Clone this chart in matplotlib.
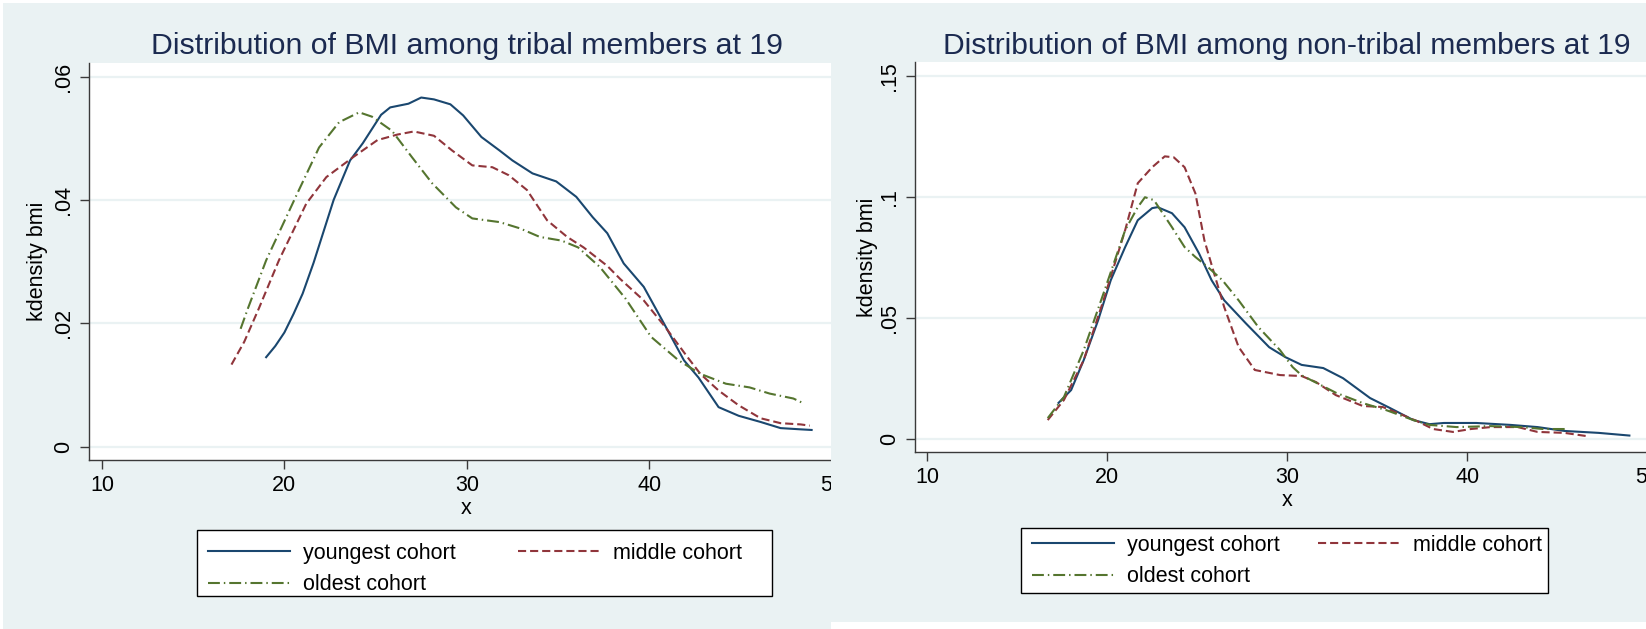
import matplotlib
matplotlib.use('Agg')
import matplotlib.pyplot as plt
from matplotlib.patches import Rectangle

# BMI kernel densities at age 19
cohorts = ['youngest cohort', 'middle cohort', 'oldest cohort']

# tribal members
tr_young_x = [19.0, 19.5, 20.0, 20.5, 21.0, 21.6, 22.7, 23.6, 24.3, 25.3, 25.8, 26.8, 27.5, 28.2,
              29.1, 29.8, 30.8, 31.8, 32.5, 33.6, 34.9, 36.0, 36.9, 37.7, 38.6, 39.7, 40.8, 41.9,
              42.7, 43.8, 44.9, 46.1, 47.2, 48.3, 48.9]
tr_young_y = [0.0145, 0.0163, 0.0185, 0.0215, 0.0248, 0.0298, 0.0400, 0.0464, 0.0492, 0.0538,
              0.0550, 0.0556, 0.0566, 0.0563, 0.0555, 0.0537, 0.0502, 0.0480, 0.0464, 0.0443,
              0.0430, 0.0405, 0.0372, 0.0346, 0.0297, 0.0259, 0.0200, 0.0140, 0.0112, 0.0064,
              0.0050, 0.0040, 0.0030, 0.0028, 0.0027]
tr_mid_x = [17.1, 17.8, 18.6, 19.7, 21.2, 22.3, 23.8, 25.1, 26.2, 27.1, 28.2, 29.2, 30.3, 31.4,
            32.3, 33.3, 34.4, 35.5, 36.4, 37.7, 38.4, 39.7, 40.9, 42.1, 42.8, 43.8, 44.9, 46.1,
            47.2, 48.3, 48.8]
tr_mid_y = [0.0133, 0.0170, 0.0224, 0.0302, 0.0394, 0.0437, 0.0470, 0.0497, 0.0506, 0.0511,
            0.0504, 0.0480, 0.0456, 0.0453, 0.0440, 0.0416, 0.0367, 0.0340, 0.0323, 0.0293,
            0.0272, 0.0237, 0.0193, 0.0145, 0.0118, 0.0091, 0.0067, 0.0046, 0.0038, 0.0036,
            0.0034]
tr_old_x = [17.6, 18.0, 19.0, 20.7, 21.9, 23.0, 24.1, 24.8, 25.9, 27.0, 28.1, 29.4, 30.3, 31.8,
            32.9, 34.0, 35.2, 36.1, 37.3, 38.7, 40.1, 41.6, 42.8, 44.2, 45.5, 46.6, 47.9, 48.4]
tr_old_y = [0.0191, 0.0224, 0.0302, 0.0410, 0.0485, 0.0526, 0.0542, 0.0535, 0.0512, 0.0469,
            0.0427, 0.0388, 0.0370, 0.0364, 0.0354, 0.0340, 0.0334, 0.0323, 0.0291, 0.0240,
            0.0178, 0.0140, 0.0118, 0.0102, 0.0096, 0.0086, 0.0078, 0.0071]

# non-tribal members
nt_young_x = [17.3, 18.0, 18.7, 19.5, 20.2, 21.0, 21.7, 22.5, 22.8, 23.6, 24.3, 25.1, 25.8, 26.5,
              27.7, 29.0, 29.9, 30.8, 32.0, 33.1, 34.6, 35.7, 37.0, 37.9, 38.7, 40.5, 42.4, 43.9,
              45.4, 47.3, 49.0]
nt_young_y = [0.0148, 0.0201, 0.0325, 0.0490, 0.0655, 0.0792, 0.0903, 0.0953, 0.0957, 0.0932,
              0.0874, 0.0766, 0.0655, 0.0572, 0.0477, 0.0378, 0.0337, 0.0305, 0.0292, 0.0250,
              0.0168, 0.0127, 0.0077, 0.0060, 0.0065, 0.0065, 0.0057, 0.0048, 0.0032, 0.0024,
              0.0013]
nt_mid_x = [16.7, 17.6, 18.7, 19.8, 21.0, 21.7, 22.5, 23.2, 23.7, 24.3, 24.9, 25.4, 26.0, 26.5,
            27.3, 28.2, 29.6, 30.8, 31.6, 32.7, 34.2, 35.3, 36.4, 37.2, 38.1, 39.2, 40.2, 41.3,
            42.8, 43.9, 45.4, 46.6]
nt_mid_y = [0.0077, 0.0160, 0.0325, 0.0573, 0.0862, 0.1056, 0.1122, 0.1167, 0.1163, 0.1122,
            0.1014, 0.0820, 0.0668, 0.0544, 0.0379, 0.0284, 0.0263, 0.0259, 0.0234, 0.0180,
            0.0135, 0.0131, 0.0098, 0.0073, 0.0040, 0.0028, 0.0040, 0.0048, 0.0048, 0.0028,
            0.0024, 0.0011]
nt_old_x = [16.7, 17.6, 18.7, 19.8, 21.0, 21.7, 22.1, 22.6, 23.6, 24.3, 24.9, 25.6, 26.4, 27.3,
            28.4, 29.6, 30.3, 30.8, 32.7, 34.2, 35.5, 37.0, 37.9, 39.4, 41.3, 43.0, 44.2, 45.6]
nt_old_y = [0.0085, 0.0172, 0.0366, 0.0601, 0.0862, 0.0957, 0.0998, 0.0986, 0.0874, 0.0792,
            0.0751, 0.0709, 0.0655, 0.0572, 0.0461, 0.0366, 0.0296, 0.0262, 0.0190, 0.0147,
            0.0118, 0.0077, 0.0057, 0.0048, 0.0052, 0.0048, 0.0040, 0.0040]

x_ticks = [10, 20, 30, 40, 50]
tr_yticks = [0, 0.02, 0.04, 0.06]
tr_ylabels = ['0', '.02', '.04', '.06']
nt_yticks = [0, 0.05, 0.1, 0.15]
nt_ylabels = ['0', '.05', '.1', '.15']

BG = '#EAF2F3'
TITLE_C = '#1b2a50'
AXIS_C = '#3a3a3a'
colors = ['#1A476F', '#90353B', '#55752F']
styles = ['-', (0, (3.9, 1.9)), (0, (5.7, 1.9, 0.7, 1.9))]

plt.rcParams['font.family'] = ['Liberation Sans', 'DejaVu Sans']

W, H = 1646, 629
fig = plt.figure(figsize=(W / 100, H / 100), dpi=100)


def fx(px):
    return px / W


def fy(py):
    return 1 - py / H


def box(x0, y0, x1, y1, **kw):
    # rectangle given in picture pixels (top-left origin)
    fig.add_artist(Rectangle((fx(x0), fy(y1)), fx(x1) - fx(x0), (y1 - y0) / H,
                             transform=fig.transFigure, **kw))


# panel backgrounds (the screenshot crops two separate graphs)
box(3, 3, 831, 629, facecolor=BG, edgecolor='none', zorder=-1)
box(831, 3, 1646, 622, facecolor=BG, edgecolor='none', zorder=1)


def style_axes(ax, yticks, ylabels, xlim, ylim):
    ax.set_facecolor('white')
    ax.set_xlim(xlim)
    ax.set_ylim(ylim)
    for s in ['top', 'right']:
        ax.spines[s].set_visible(False)
    for s in ['left', 'bottom']:
        ax.spines[s].set_color(AXIS_C)
        ax.spines[s].set_linewidth(1.0)
    ax.set_xticks(x_ticks)
    ax.set_xticklabels([str(t) for t in x_ticks])
    ax.set_yticks(yticks)
    ax.set_yticklabels(ylabels)
    ax.tick_params(axis='both', direction='out', length=6.5, width=1.0, color=AXIS_C,
                   labelsize=15.5, pad=4)
    ax.tick_params(axis='y', labelrotation=90)
    plt.setp(ax.get_yticklabels(), va='center')
    ax.yaxis.grid(True, color=BG, linewidth=1.6)
    ax.set_axisbelow(True)


ax1 = fig.add_axes([fx(89), fy(460), fx(845) - fx(89), (460 - 63) / H])
ax1.set_zorder(0)
for xs, ys, c, ls in zip([tr_young_x, tr_mid_x, tr_old_x], [tr_young_y, tr_mid_y, tr_old_y],
                         colors, styles):
    ax1.plot(xs, ys, color=c, linestyle=ls, linewidth=1.5)
style_axes(ax1, tr_yticks, tr_ylabels, (9.29, 50.73), (-0.00217, 0.0622))

ax2 = fig.add_axes([fx(915), fy(452), fx(1660) - fx(915), (452 - 62) / H])
ax2.set_zorder(2)
for xs, ys, c, ls in zip([nt_young_x, nt_mid_x, nt_old_x], [nt_young_y, nt_mid_y, nt_old_y],
                         colors, styles):
    ax2.plot(xs, ys, color=c, linestyle=ls, linewidth=1.5)
style_axes(ax2, nt_yticks, nt_ylabels, (9.33, 50.7), (-0.0055, 0.1557))

# titles and axis titles
fig.text(fx(467), fy(54), 'Distribution of BMI among tribal members at 19', ha='center',
         va='baseline', fontsize=21.8, color=TITLE_C)
fig.text(fx(1287), fy(54), 'Distribution of BMI among non-tribal members at 19', ha='center',
         va='baseline', fontsize=21.6, color=TITLE_C, zorder=3)
fig.text(fx(37), fy(261), 'kdensity bmi', rotation=90, ha='center', va='center', fontsize=15.5)
fig.text(fx(867), fy(257), 'kdensity bmi', rotation=90, ha='center', va='center', fontsize=15.5,
         zorder=3)
fig.text(fx(466), fy(509), 'x', ha='center', va='center', fontsize=15.5)
fig.text(fx(1287), fy(500), 'x', ha='center', va='center', fontsize=15.5, zorder=3)

# legends: youngest / middle on the first row, oldest below, inside a plain box
h = ax1.get_lines()
handles = [h[0], h[2], h[1]]
labels = [cohorts[0], cohorts[2], cohorts[1]]
legend_spec = [
    # box x0, y0, x1, y1, first handle x, rows centre y, column spacing
    (197, 530, 772, 596, 208, 569, 2.9),
    (1021, 528, 1548, 593, 1032, 561, 1.8),
]
for x0, y0, x1, y1, hx, cy, csp in legend_spec:
    box(x0, y0, x1, y1, facecolor='white', edgecolor='black', linewidth=1.0, zorder=4)
    leg = fig.legend(handles, labels, loc='center left', bbox_to_anchor=(fx(hx), fy(cy)), ncol=2,
                     frameon=False, fontsize=15.5, handlelength=3.8, handletextpad=0.6,
                     columnspacing=csp, borderpad=0, borderaxespad=0, labelspacing=0.48)
    leg.set_zorder(5)

plt.savefig('out.png', dpi=100)
